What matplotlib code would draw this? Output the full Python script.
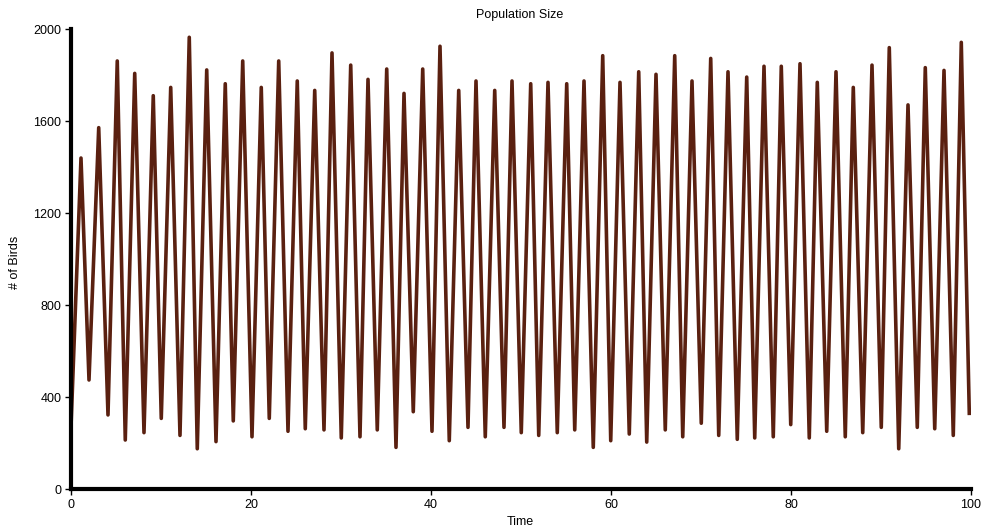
import numpy as np
import matplotlib
matplotlib.use('Agg')
import matplotlib.pyplot as plt

# values (peaks and troughs of each cycle)
peak_t = [1.11, 3.08, 5.14, 7.08, 9.14, 11.08, 13.14, 15.08, 17.14, 19.08,
          21.14, 23.08, 25.14, 27.08, 29.0, 31.08, 33.0, 35.08, 37.0, 39.08,
          41.0, 43.08, 45.0, 47.08, 49.0, 51.08, 53.0, 55.08, 57.0, 59.08,
          61.0, 63.08, 65.0, 67.08, 69.0, 71.08, 73.0, 75.08, 77.0, 78.92,
          81.0, 82.92, 85.0, 86.92, 89.0, 90.92, 93.0, 94.92, 97.0, 98.92]
peak_v = [1439, 1571, 1861, 1807, 1710, 1746, 1964, 1822, 1762, 1861,
          1746, 1861, 1774, 1733, 1896, 1843, 1781, 1826, 1720, 1826,
          1925, 1733, 1774, 1733, 1774, 1762, 1768, 1762, 1774, 1884,
          1768, 1814, 1803, 1884, 1774, 1872, 1814, 1791, 1838, 1838,
          1849, 1768, 1814, 1746, 1843, 1919, 1670, 1832, 1820, 1942]
trough_t = [2.0, 4.11, 6.03, 8.11, 10.03, 12.11, 14.03, 16.11, 18.03, 20.11,
            22.03, 24.11, 26.03, 28.11, 30.03, 32.11, 34.03, 36.11, 38.03, 40.11,
            42.03, 44.11, 46.03, 48.11, 50.03, 51.97, 54.03, 55.97, 58.03, 59.97,
            62.03, 63.97, 66.03, 67.97, 70.03, 71.97, 74.03, 75.97, 78.03, 79.97,
            82.03, 83.97, 86.03, 87.97, 90.03, 91.97, 94.03, 95.97, 98.03]
trough_v = [474, 322, 213, 245, 307, 233, 175, 206, 296, 227,
            307, 251, 262, 257, 222, 227, 257, 181, 336, 251,
            210, 268, 227, 268, 245, 233, 245, 257, 181, 210,
            239, 204, 257, 227, 286, 233, 216, 222, 227, 280,
            222, 251, 227, 245, 268, 175, 268, 262, 233]
start_pt = (0.0, 270)
end_pt = (99.81, 329)

x_ticks = [0, 20, 40, 60, 80, 100]
y_ticks = [0, 400, 800, 1200, 1600, 2000]

t = [start_pt[0]]
v = [start_pt[1]]
for i in range(len(peak_t)):
    t.append(peak_t[i])
    v.append(peak_v[i])
    if i < len(trough_t):
        t.append(trough_t[i])
        v.append(trough_v[i])
t.append(end_pt[0])
v.append(end_pt[1])

plt.rcParams['font.family'] = ['Liberation Sans', 'DejaVu Sans']

fig = plt.figure(figsize=(9.83, 5.28), dpi=100)
ax = fig.add_axes([71 / 983, 39 / 528, 900 / 983, 460 / 528])

ax.plot(t, v, color='#5a2010', linewidth=2.6)

ax.set_xlim(0, 100)
ax.set_ylim(0, 2000)
ax.set_xticks(x_ticks)
ax.set_yticks(y_ticks)
ax.tick_params(labelsize=9, length=4, width=1, pad=3, colors='black')
for s in ['top', 'right']:
    ax.spines[s].set_visible(False)
for s in ['left', 'bottom']:
    ax.spines[s].set_linewidth(3)

fig.text(520 / 983, 1 - 15 / 528, 'Population Size', ha='center', va='center', fontsize=9)
fig.text(520 / 983, 1 - 522 / 528, 'Time', ha='center', va='center', fontsize=9)
fig.text(15 / 983, 1 - 262 / 528, '# of Birds', ha='center', va='center',
         rotation=90, fontsize=9)

fig.savefig('out.png', dpi=100)
